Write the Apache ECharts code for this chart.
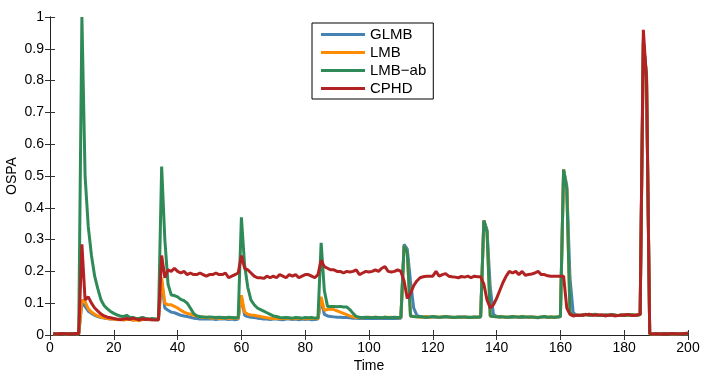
<!DOCTYPE html>
<html>
<head>
<meta charset="utf-8">
<script src="https://cdn.jsdelivr.net/npm/echarts@6/dist/echarts.min.js"></script>
<style>
  html, body { margin: 0; padding: 0; background: #fff; }
  #chart { width: 706px; height: 377px; }
</style>
</head>
<body>
<div id="chart"></div>
<script>
// OSPA 误差随时间变化 (t = 1..200)

const seriesNames = ['GLMB', 'LMB', 'LMB\u2212ab', 'CPHD'];
const seriesColors = ['#4682b4', '#ff8c00', '#2e8b57', '#b22222'];
const xTicks = [0, 20, 40, 60, 80, 100, 120, 140, 160, 180, 200];
const yTicks = [0, 0.1, 0.2, 0.3, 0.4, 0.5, 0.6, 0.7, 0.8, 0.9, 1];

const glmb = [
    0.004, 0.003, 0.005, 0.004, 0.003, 0.004, 0.005, 0.004, 0.003, 0.10,
    0.090, 0.075, 0.068, 0.062, 0.058, 0.055, 0.053, 0.052, 0.050, 0.050,
    0.049, 0.050, 0.048, 0.050, 0.051, 0.047, 0.049, 0.050, 0.048, 0.050,
    0.049, 0.048, 0.050, 0.047, 0.17, 0.085, 0.078, 0.072, 0.070, 0.066,
    0.062, 0.060, 0.058, 0.056, 0.053, 0.052, 0.050, 0.050, 0.051, 0.050,
    0.050, 0.049, 0.050, 0.051, 0.050, 0.049, 0.050, 0.048, 0.050, 0.12,
    0.062, 0.058, 0.056, 0.055, 0.053, 0.052, 0.050, 0.050, 0.049, 0.050,
    0.050, 0.049, 0.048, 0.050, 0.050, 0.049, 0.050, 0.048, 0.050, 0.049,
    0.050, 0.048, 0.049, 0.050, 0.11, 0.065, 0.060, 0.058, 0.057, 0.056,
    0.056, 0.055, 0.055, 0.054, 0.053, 0.053, 0.052, 0.052, 0.052, 0.052,
    0.053, 0.052, 0.053, 0.052, 0.052, 0.053, 0.052, 0.053, 0.052, 0.053,
    0.285, 0.270, 0.170, 0.085, 0.062, 0.058, 0.056, 0.055, 0.056, 0.057,
    0.056, 0.055, 0.056, 0.057, 0.056, 0.055, 0.056, 0.055, 0.057, 0.056,
    0.055, 0.056, 0.055, 0.056, 0.056, 0.36, 0.33, 0.15, 0.065, 0.058,
    0.056, 0.057, 0.056, 0.055, 0.056, 0.057, 0.056, 0.055, 0.056, 0.057,
    0.056, 0.055, 0.054, 0.056, 0.057, 0.055, 0.056, 0.055, 0.056, 0.057,
    0.52, 0.47, 0.18, 0.070, 0.062, 0.061, 0.063, 0.064, 0.062, 0.063,
    0.064, 0.062, 0.061, 0.063, 0.062, 0.064, 0.063, 0.061, 0.062, 0.063,
    0.062, 0.064, 0.063, 0.062, 0.064, 0.93, 0.80, 0.004, 0.003, 0.004,
    0.003, 0.004, 0.005, 0.004, 0.003, 0.004, 0.003, 0.004, 0.005, 0.004
];

const lmb = [
    0.004, 0.003, 0.005, 0.004, 0.003, 0.004, 0.005, 0.004, 0.003, 0.11,
    0.105, 0.082, 0.072, 0.065, 0.060, 0.056, 0.054, 0.052, 0.050, 0.050,
    0.048, 0.050, 0.047, 0.049, 0.050, 0.046, 0.048, 0.045, 0.049, 0.050,
    0.048, 0.049, 0.050, 0.048, 0.18, 0.100, 0.095, 0.095, 0.090, 0.085,
    0.078, 0.072, 0.068, 0.066, 0.062, 0.060, 0.057, 0.056, 0.055, 0.054,
    0.053, 0.054, 0.052, 0.053, 0.054, 0.052, 0.053, 0.054, 0.052, 0.125,
    0.072, 0.065, 0.063, 0.062, 0.060, 0.058, 0.056, 0.054, 0.053, 0.052,
    0.052, 0.051, 0.052, 0.053, 0.052, 0.051, 0.052, 0.053, 0.052, 0.051,
    0.052, 0.053, 0.052, 0.051, 0.12, 0.078, 0.080, 0.082, 0.080, 0.076,
    0.072, 0.068, 0.064, 0.060, 0.057, 0.055, 0.055, 0.054, 0.055, 0.056,
    0.055, 0.056, 0.055, 0.054, 0.056, 0.055, 0.056, 0.055, 0.054, 0.055,
    0.28, 0.26, 0.060, 0.058, 0.057, 0.056, 0.057, 0.058, 0.056, 0.057,
    0.057, 0.056, 0.057, 0.058, 0.057, 0.056, 0.055, 0.057, 0.056, 0.057,
    0.056, 0.055, 0.057, 0.056, 0.058, 0.36, 0.325, 0.060, 0.058, 0.057,
    0.058, 0.057, 0.056, 0.057, 0.058, 0.057, 0.056, 0.058, 0.057, 0.056,
    0.057, 0.056, 0.055, 0.057, 0.058, 0.056, 0.057, 0.056, 0.057, 0.058,
    0.52, 0.46, 0.070, 0.063, 0.062, 0.061, 0.063, 0.065, 0.062, 0.063,
    0.065, 0.062, 0.061, 0.063, 0.062, 0.064, 0.063, 0.061, 0.062, 0.063,
    0.062, 0.064, 0.063, 0.062, 0.064, 0.92, 0.82, 0.004, 0.003, 0.004,
    0.003, 0.004, 0.005, 0.004, 0.003, 0.004, 0.003, 0.004, 0.005, 0.004
];

const lmbAb = [
    0.004, 0.003, 0.005, 0.004, 0.003, 0.004, 0.005, 0.004, 0.003, 1.0,
    0.50, 0.34, 0.25, 0.185, 0.145, 0.110, 0.092, 0.082, 0.074, 0.068,
    0.063, 0.060, 0.058, 0.062, 0.056, 0.055, 0.052, 0.053, 0.055, 0.052,
    0.050, 0.052, 0.050, 0.050, 0.53, 0.30, 0.16, 0.126, 0.124, 0.120,
    0.112, 0.108, 0.100, 0.085, 0.068, 0.060, 0.058, 0.057, 0.056, 0.057,
    0.056, 0.055, 0.056, 0.055, 0.054, 0.056, 0.055, 0.054, 0.055, 0.37,
    0.22, 0.15, 0.110, 0.095, 0.085, 0.080, 0.075, 0.070, 0.065, 0.060,
    0.058, 0.055, 0.054, 0.055, 0.054, 0.053, 0.055, 0.054, 0.053, 0.055,
    0.054, 0.055, 0.053, 0.054, 0.29, 0.14, 0.090, 0.090, 0.090, 0.089,
    0.090, 0.088, 0.088, 0.080, 0.068, 0.058, 0.056, 0.055, 0.056, 0.055,
    0.054, 0.056, 0.055, 0.054, 0.056, 0.055, 0.054, 0.056, 0.055, 0.056,
    0.28, 0.26, 0.060, 0.058, 0.057, 0.058, 0.057, 0.056, 0.057, 0.058,
    0.057, 0.056, 0.057, 0.058, 0.057, 0.056, 0.055, 0.057, 0.056, 0.057,
    0.056, 0.055, 0.057, 0.056, 0.058, 0.36, 0.325, 0.060, 0.058, 0.057,
    0.058, 0.057, 0.056, 0.057, 0.058, 0.057, 0.056, 0.058, 0.057, 0.056,
    0.057, 0.056, 0.055, 0.057, 0.058, 0.056, 0.057, 0.056, 0.057, 0.058,
    0.52, 0.46, 0.070, 0.063, 0.062, 0.061, 0.063, 0.065, 0.062, 0.063,
    0.065, 0.062, 0.061, 0.063, 0.062, 0.064, 0.063, 0.061, 0.062, 0.063,
    0.062, 0.064, 0.063, 0.062, 0.064, 0.92, 0.82, 0.004, 0.003, 0.004,
    0.003, 0.004, 0.005, 0.004, 0.003, 0.004, 0.003, 0.004, 0.005, 0.004
];

const cphd = [
    0.004, 0.003, 0.004, 0.005, 0.004, 0.003, 0.004, 0.005, 0.004, 0.285,
    0.110, 0.120, 0.100, 0.085, 0.075, 0.066, 0.060, 0.056, 0.054, 0.052,
    0.050, 0.048, 0.050, 0.052, 0.049, 0.053, 0.050, 0.048, 0.051, 0.049,
    0.050, 0.048, 0.047, 0.048, 0.25, 0.180, 0.205, 0.200, 0.210, 0.200,
    0.195, 0.200, 0.190, 0.195, 0.190, 0.190, 0.195, 0.190, 0.185, 0.190,
    0.190, 0.195, 0.190, 0.190, 0.195, 0.180, 0.185, 0.190, 0.195, 0.25,
    0.210, 0.205, 0.195, 0.185, 0.180, 0.180, 0.178, 0.185, 0.180, 0.185,
    0.180, 0.190, 0.185, 0.180, 0.190, 0.185, 0.190, 0.180, 0.185, 0.190,
    0.190, 0.185, 0.180, 0.190, 0.235, 0.215, 0.210, 0.205, 0.205, 0.200,
    0.200, 0.195, 0.200, 0.198, 0.200, 0.205, 0.190, 0.195, 0.200, 0.198,
    0.200, 0.205, 0.200, 0.210, 0.215, 0.200, 0.198, 0.200, 0.205, 0.200,
    0.170, 0.115, 0.130, 0.155, 0.170, 0.180, 0.183, 0.185, 0.185, 0.185,
    0.200, 0.185, 0.190, 0.193, 0.185, 0.183, 0.182, 0.180, 0.184, 0.182,
    0.185, 0.180, 0.185, 0.183, 0.183, 0.160, 0.110, 0.085, 0.095, 0.115,
    0.140, 0.165, 0.185, 0.200, 0.195, 0.200, 0.190, 0.200, 0.188, 0.190,
    0.192, 0.195, 0.200, 0.190, 0.190, 0.186, 0.185, 0.185, 0.185, 0.185,
    0.185, 0.085, 0.065, 0.060, 0.062, 0.063, 0.062, 0.064, 0.065, 0.063,
    0.062, 0.063, 0.064, 0.060, 0.062, 0.063, 0.060, 0.061, 0.063, 0.062,
    0.065, 0.062, 0.061, 0.063, 0.065, 0.96, 0.80, 0.004, 0.003, 0.004,
    0.003, 0.004, 0.003, 0.004, 0.005, 0.004, 0.003, 0.004, 0.005, 0.006
];

const seriesData = [glmb, lmb, lmbAb, cphd];

// 时间步: 1..200
const time = [];
for (let t = 1; t <= glmb.length; t++) time.push(t);

const FONT = '"Liberation Sans", Arial, sans-serif';

function buildSeries() {
    return seriesNames.map((name, i) => ({
        name: name,
        type: 'line',
        xAxisIndex: 0,
        yAxisIndex: 0,
        showSymbol: false,
        symbol: 'none',
        lineStyle: { width: 3, color: seriesColors[i] },
        itemStyle: { color: seriesColors[i] },
        data: seriesData[i].map((v, k) => [time[k], v])
    }));
}

const tickStyle = { show: true, inside: true, length: 5, lineStyle: { color: '#333', width: 1 } };
const lineStyle = { show: true, lineStyle: { color: '#222', width: 1 } };

function init() {
    const chart = echarts.init(document.getElementById('chart'), null, { renderer: 'canvas' });

    const option = {
        animation: false,
        backgroundColor: '#ffffff',
        textStyle: { fontFamily: FONT },
        grid: { left: 50, right: 18, top: 17, bottom: 42, outerBoundsMode: 'none', containLabel: false },
        legend: {
            data: seriesNames,
            orient: 'vertical',
            left: 312,
            top: 23,
            icon: 'rect',
            itemWidth: 44,
            itemHeight: 3,
            itemGap: 3,
            padding: [4, 7, 3, 9],
            borderColor: '#000',
            borderWidth: 1,
            backgroundColor: '#fff',
            textStyle: { fontSize: 15, color: '#000', fontFamily: FONT, lineHeight: 14 }
        },
        xAxis: [{
            type: 'value',
            min: xTicks[0],
            max: xTicks[xTicks.length - 1],
            interval: 20,
            name: 'Time',
            nameLocation: 'middle',
            nameGap: 24,
            nameMoveOverlap: false,
            nameTextStyle: { fontSize: 14, color: '#000', fontFamily: FONT },
            axisLine: lineStyle,
            axisTick: tickStyle,
            axisLabel: { fontSize: 14, color: '#000', margin: 6, fontFamily: FONT },
            splitLine: { show: false }
        }, {
            type: 'value',
            position: 'top',
            min: xTicks[0],
            max: xTicks[xTicks.length - 1],
            interval: 20,
            axisLine: lineStyle,
            axisTick: tickStyle,
            axisLabel: { show: false },
            splitLine: { show: false }
        }],
        yAxis: [{
            type: 'value',
            min: yTicks[0],
            max: yTicks[yTicks.length - 1],
            interval: 0.1,
            name: 'OSPA',
            nameLocation: 'middle',
            nameGap: 31,
            nameMoveOverlap: false,
            nameTextStyle: { fontSize: 14, color: '#000', fontFamily: FONT },
            axisLine: lineStyle,
            axisTick: tickStyle,
            axisLabel: { fontSize: 14, color: '#000', margin: 6, fontFamily: FONT },
            splitLine: { show: false }
        }, {
            type: 'value',
            position: 'right',
            min: yTicks[0],
            max: yTicks[yTicks.length - 1],
            interval: 0.1,
            axisLine: lineStyle,
            axisTick: tickStyle,
            axisLabel: { show: false },
            splitLine: { show: false }
        }],
        series: buildSeries()
    };

    chart.setOption(option);
}

document.addEventListener('DOMContentLoaded', init);
</script>
</body>
</html>
